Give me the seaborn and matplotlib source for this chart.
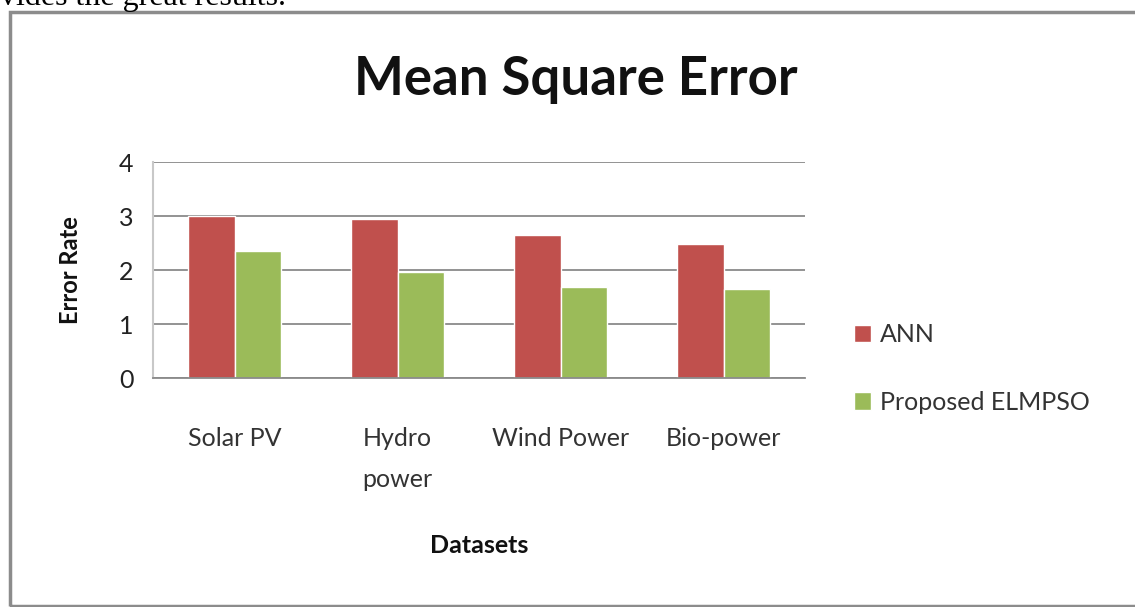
import pandas as pd
import matplotlib.pyplot as plt
import seaborn as sns
from matplotlib.patches import Rectangle

# data
datasets = ["Solar PV", "Hydro\npower", "Wind Power", "Bio-power"]
ann = [3.0, 2.95, 2.64, 2.48]
elmpso = [2.35, 1.96, 1.68, 1.65]
series = ["ANN", "Proposed ELMPSO"]
colors = ["#C0504D", "#9BBB59"]

df = pd.DataFrame({
    "Datasets": datasets * 2,
    "Error Rate": ann + elmpso,
    "Method": [series[0]] * len(datasets) + [series[1]] * len(datasets),
})

sns.set_style("white")
plt.rcParams["font.family"] = ["Lato", "DejaVu Sans"]

fig = plt.figure(figsize=(11.35, 6.07), dpi=100)
ax = fig.add_axes([153 / 1135, 1 - 378 / 607, 652 / 1135, 216 / 607])

sns.barplot(data=df, x="Datasets", y="Error Rate", hue="Method",
            palette=colors, width=0.571, saturation=1, ax=ax)

ax.set_ylim(0, 4)
ax.set_xlim(-0.5, 3.5)
ax.set_yticks([0, 1, 2, 3, 4])
ax.yaxis.grid(True, color="#8a8a8a", linewidth=1.3)
ax.set_axisbelow(True)
for s in ["top", "right"]:
    ax.spines[s].set_visible(False)
ax.spines["left"].set_color("#c8c8c8")
ax.spines["left"].set_linewidth(1.5)
ax.spines["bottom"].set_color("#8a8a8a")
ax.spines["bottom"].set_linewidth(1.3)

ax.tick_params(axis="y", length=6, color="#8a8a8a", width=1.3, labelsize=18,
               labelcolor="#222222", pad=8)
ax.tick_params(axis="x", length=0, labelsize=18, labelcolor="#333333", pad=35)
for lbl in ax.get_xticklabels():
    lbl.set_linespacing(1.95)
ax.set_xticks([-0.5, 0.5, 1.5, 2.5, 3.5], minor=True)
ax.tick_params(axis="x", which="minor", length=6, color="#bbbbbb", width=1.3)

ax.set_xlabel("Datasets", fontsize=18, fontweight="bold", labelpad=31, color="#111111")
ax.set_ylabel("Error Rate", fontsize=17, fontweight="bold", labelpad=27, color="#111111")

ax.legend(frameon=False, fontsize=18, bbox_to_anchor=(1.06, 0.30), loc="upper left",
          handlelength=0.68, handleheight=0.68, handletextpad=0.35, labelspacing=1.78,
          borderaxespad=0, labelcolor="#333333")

fig.text(0.507, 1 - 80 / 607, "Mean Square Error", fontsize=38, fontweight="bold",
         ha="center", va="center", color="#111111")

# frame around the chart and the cut-off line of text above it
fig.patches.append(Rectangle((10 / 1135, 1 / 607), 1.2, 594 / 607, transform=fig.transFigure,
                             fill=False, edgecolor="#8c8c8c", linewidth=2.5))
fig.text(0.0, 1 - 5 / 607, "vides the great results.", fontsize=23,
         family="Liberation Serif", va="baseline", ha="left", color="#000000")

fig.savefig("out.png", dpi=100)
